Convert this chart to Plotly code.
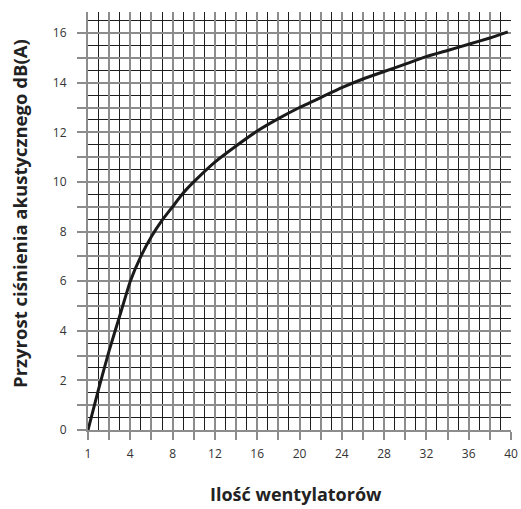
import plotly.graph_objects as go

# Positions along the fan-count axis (the first tick, labelled "1", sits at 0)
x_pos = [0, 1, 2, 3, 4, 5, 6, 7, 8, 9, 10, 12, 14, 16, 18, 20, 22, 24, 26, 28, 30, 32, 34, 36, 38, 39.7]
# Increase of acoustic pressure, dB(A)
db_increase = [0, 1.65, 3.2, 4.6, 6.0, 7.0, 7.8, 8.45, 9.0, 9.55, 10.0, 10.8, 11.45, 12.05, 12.55,
               13.0, 13.4, 13.8, 14.15, 14.45, 14.75, 15.05, 15.3, 15.55, 15.8, 16.05]

x_tickvals = list(range(0, 41, 2))
x_ticktext = ["1" if v == 0 else (str(v) if v % 4 == 0 else "") for v in x_tickvals]
y_tickvals = list(range(0, 17))
y_ticktext = [str(v) if v % 2 == 0 else "" for v in y_tickvals]

x_title = "Ilość wentylatorów"
y_title = "Przyrost ciśnienia akustycznego dB(A)"

MAJOR = "#8c8c8c"
MINOR = "#1e1e1e"
FONT = "Open Sans"

fig = go.Figure()
fig.add_trace(go.Scatter(
    x=x_pos, y=db_increase, mode="lines",
    line=dict(color="#1a1a1a", width=3, shape="spline", smoothing=0.4),
    showlegend=False, hoverinfo="skip",
))

fig.update_layout(
    width=521, height=509,
    margin=dict(l=88, r=10, t=12, b=79, autoexpand=False),
    paper_bgcolor="white", plot_bgcolor="white",
    font=dict(family=FONT, color="#333333", size=12),
    xaxis=dict(
        range=[0, 40], tickmode="array", tickvals=x_tickvals, ticktext=x_ticktext,
        showgrid=True, gridcolor=MAJOR, gridwidth=2,
        minor=dict(tickmode="linear", tick0=0, dtick=1, showgrid=True, gridcolor=MINOR, gridwidth=1, ticks=""),
        ticks="outside", ticklen=8, tickcolor=MAJOR, tickwidth=2, ticklabelstandoff=4,
        showline=True, linecolor=MAJOR, linewidth=2, zeroline=False, automargin=False,
        tickfont=dict(family=FONT, size=12, color="#333333"),
    ),
    yaxis=dict(
        range=[0, 16.85], tickmode="array", tickvals=y_tickvals, ticktext=y_ticktext,
        showgrid=True, gridcolor=MAJOR, gridwidth=2,
        minor=dict(tickmode="linear", tick0=0, dtick=0.5, showgrid=True, gridcolor=MINOR, gridwidth=1, ticks=""),
        ticks="outside", ticklen=9, tickcolor=MAJOR, tickwidth=2, ticklabelstandoff=8,
        showline=True, linecolor=MAJOR, linewidth=2, zeroline=False, automargin=False,
        tickfont=dict(family=FONT, size=12, color="#333333"),
    ),
    annotations=[
        dict(text="<b>" + x_title + "</b>", xref="paper", yref="paper", x=0.4917, y=-0.152,
             xanchor="center", yanchor="middle", showarrow=False,
             font=dict(family=FONT, size=18, color="#222222")),
        dict(text="<b>" + y_title + "</b>", xref="paper", yref="paper", x=-0.162, y=0.518,
             xanchor="center", yanchor="middle", showarrow=False, textangle=-90,
             font=dict(family=FONT, size=18.5, color="#222222")),
    ],
)

fig.write_html(
    "out.html",
    config={"displayModeBar": False},
    post_script="document.body.style.margin='0';document.body.style.overflow='hidden';",
)
